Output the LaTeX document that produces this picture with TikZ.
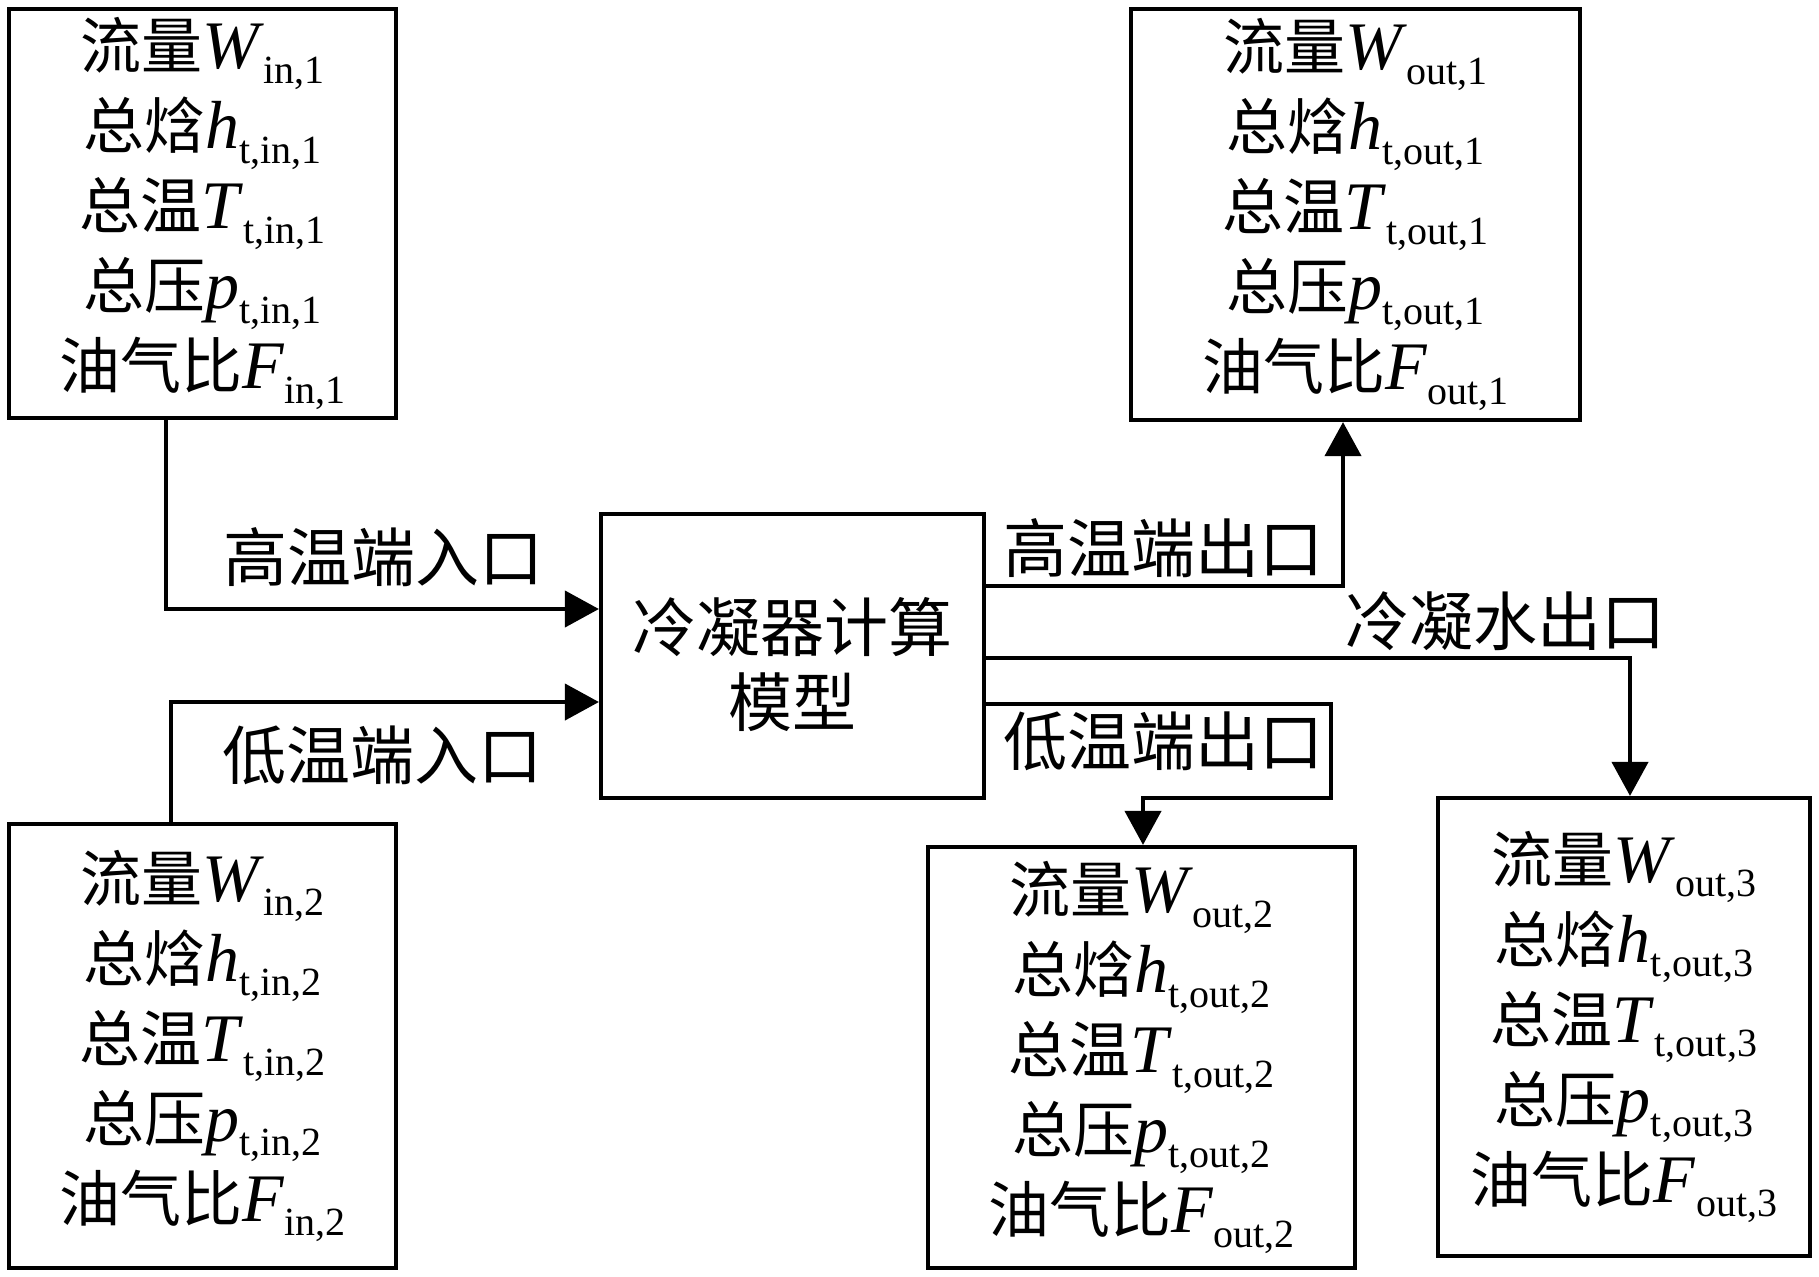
\documentclass[tikz,border=0pt]{standalone}
\usepackage{fontspec}
\setmainfont{Liberation Serif}
\newfontfamily\cjk{Noto Sans CJK SC}
\usetikzlibrary{arrows.meta}
\newcommand\zh[1]{{\cjk #1}}
\newcommand\pq[3]{\zh{#1}{\fontsize{34}{40}\selectfont\textit{#2}}\raisebox{-0.24em}{\fontsize{20}{20}\selectfont #3}}
\tikzset{
  blk/.style={draw, line width=2.1pt, inner sep=0pt, align=center,
    font=\fontsize{30.5}{40}\selectfont},
  lbl/.style={inner sep=0pt, font=\fontsize{32}{37.5}\selectfont, align=center},
  conn/.style={line width=2.1pt},
  arr/.style={conn, -{Triangle[length=17pt,width=18pt]}}
}
\begin{document}
\begin{tikzpicture}[x=0.5pt,y=-0.5pt]
\useasboundingbox (0,0) rectangle (1819,1276);
\node[blk, minimum width=193.5pt, minimum height=204.5pt] (in1) at (202.5,213.5)
 {\pq{流量}{W}{in,1}\\ \pq{总焓}{h}{t,in,1}\\ \pq{总温}{T}{t,in,1}\\ \pq{总压}{p}{t,in,1}\\ \pq{油气比}{F}{in,1}};
\node[blk, minimum width=193.5pt, minimum height=222pt] (in2) at (202.5,1046)
 {\pq{流量}{W}{in,2}\\ \pq{总焓}{h}{t,in,2}\\ \pq{总温}{T}{t,in,2}\\ \pq{总压}{p}{t,in,2}\\ \pq{油气比}{F}{in,2}};
\node[blk, minimum width=191.5pt, minimum height=142pt] (core) at (792.5,656) {};
\node[lbl] (coretxt) at (792.5,665) {\zh{冷凝器计算}\\ \zh{模型}};
\node[blk, minimum width=224.5pt, minimum height=205.5pt] (out1) at (1355.5,214.5)
 {\pq{流量}{W}{out,1}\\ \pq{总焓}{h}{t,out,1}\\ \pq{总温}{T}{t,out,1}\\ \pq{总压}{p}{t,out,1}\\ \pq{油气比}{F}{out,1}};
\node[blk, minimum width=213.5pt, minimum height=210.5pt] (out2) at (1141.5,1057.5)
 {\pq{流量}{W}{out,2}\\ \pq{总焓}{h}{t,out,2}\\ \pq{总温}{T}{t,out,2}\\ \pq{总压}{p}{t,out,2}\\ \pq{油气比}{F}{out,2}};
\node[blk, minimum width=186pt, minimum height=229pt] (out3) at (1624,1027)
 {\pq{流量}{W}{out,3}\\ \pq{总焓}{h}{t,out,3}\\ \pq{总温}{T}{t,out,3}\\ \pq{总压}{p}{t,out,3}\\ \pq{油气比}{F}{out,3}};

\coordinate (j1) at (1331,798);
\draw[arr] ([xshift=-18.25pt]in1.south) |- ([yshift=23.5pt]core.west);
\draw[arr] ([xshift=-15.75pt]in2.north) |- ([yshift=-23pt]core.west);
\draw[arr] ([yshift=35pt]core.east) -| ([xshift=-6.25pt]out1.south);
\draw[arr] ([yshift=-1pt]core.east) -| ([xshift=3pt]out3.north);
\draw[arr] ([yshift=-24pt]core.east) -| (j1) -| ([xshift=0.75pt]out2.north);

\node[lbl] (l1) at (383,557) {\zh{高温端入口}};
\node[lbl] (l2) at (382,755) {\zh{低温端入口}};
\node[lbl] (l3) at (1163,548) {\zh{高温端出口}};
\node[lbl] (l4) at (1505,621) {\zh{冷凝水出口}};
\node[lbl] (l5) at (1163,741) {\zh{低温端出口}};
\end{tikzpicture}
\end{document}
